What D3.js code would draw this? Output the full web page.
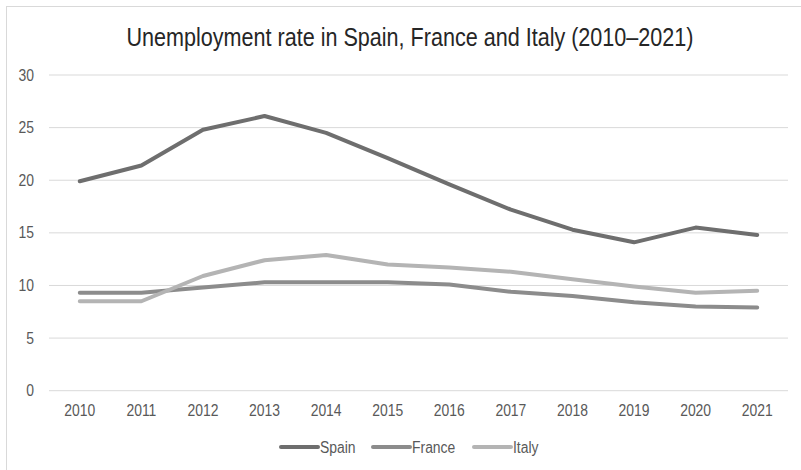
<!DOCTYPE html>
<html>
<head>
<meta charset="utf-8">
<script src="https://cdn.jsdelivr.net/npm/d3@7"></script>
<style>
  html, body { margin: 0; padding: 0; background: #fff; }
  svg { display: block; font-family: "Liberation Sans", Arial, sans-serif; }
</style>
</head>
<body>
<svg id="chart" width="801" height="470"></svg>
<script>
// Unemployment rate (%) by year
const years = ["2010","2011","2012","2013","2014","2015","2016","2017","2018","2019","2020","2021"];
const spain  = [19.9, 21.4, 24.8, 26.1, 24.5, 22.1, 19.6, 17.2, 15.3, 14.1, 15.5, 14.8];
const france = [9.3, 9.3, 9.8, 10.3, 10.3, 10.3, 10.1, 9.4, 9.0, 8.4, 8.0, 7.9];
const italy  = [8.5, 8.5, 10.9, 12.4, 12.9, 12.0, 11.7, 11.3, 10.6, 9.9, 9.3, 9.5];
const yTicks = [0, 5, 10, 15, 20, 25, 30];
const seriesNames = ["Spain", "France", "Italy"];
const seriesColors = ["#6e6e6e", "#8c8c8c", "#b4b4b4"];
const title = "Unemployment rate in Spain, France and Italy (2010\u20132021)";

const series = [spain, france, italy].map((vals, i) => ({
  name: seriesNames[i], color: seriesColors[i], values: vals
}));

// condensed look for all text (horizontal squeeze)
const squeeze = 0.87;
const titleSqueeze = 0.83;

const svg = d3.select("#chart");
const plot = { left: 49, right: 788, top: 75, bottom: 390.7 };

// outer chart frame
svg.append("rect")
  .attr("x", 6.5).attr("y", 6.5)
  .attr("width", 820).attr("height", 490)
  .attr("fill", "#fff").attr("stroke", "#d9d9d9").attr("stroke-width", 1);

const x = d3.scaleBand().domain(years).range([plot.left, plot.right]);
const y = d3.scaleLinear().domain([0, 30]).range([plot.bottom, plot.top]);

// gridlines
svg.append("g").selectAll("line").data(yTicks).join("line")
  .attr("x1", plot.left).attr("x2", plot.right)
  .attr("y1", d => y(d)).attr("y2", d => y(d))
  .attr("stroke", "#d9d9d9").attr("stroke-width", 1);

// y axis labels
const yAxis = svg.append("g")
  .attr("transform", `translate(${plot.left - 15},0)`)
  .call(d3.axisLeft(y).tickValues(yTicks).tickSize(0).tickPadding(0));
yAxis.select(".domain").remove();
yAxis.selectAll("text")
  .attr("fill", "#595959")
  .attr("transform", `scale(${squeeze},1)`)
  .style("font-size", "16px")
  .style("font-family", "inherit");

// x axis labels
const xAxis = svg.append("g")
  .attr("transform", `translate(0,${plot.bottom + 14})`)
  .call(d3.axisBottom(x).tickSize(0).tickPadding(0));
xAxis.select(".domain").remove();
xAxis.selectAll("text")
  .attr("fill", "#595959")
  .attr("transform", `scale(${squeeze},1)`)
  .style("font-size", "16px")
  .style("font-family", "inherit");

// lines
const line = d3.line()
  .x((d, i) => x(years[i]) + x.bandwidth() / 2)
  .y(d => y(d));

svg.append("g").selectAll("path").data(series).join("path")
  .attr("d", d => line(d.values))
  .attr("fill", "none")
  .attr("stroke", d => d.color)
  .attr("stroke-width", 4)
  .attr("stroke-linejoin", "round")
  .attr("stroke-linecap", "round");

// title
svg.append("text")
  .attr("transform", `translate(410,46) scale(${titleSqueeze},1)`)
  .attr("text-anchor", "middle")
  .attr("fill", "#262626")
  .style("font-size", "26px")
  .text(title);

// legend
const legendX = [280, 372, 473];
const legend = svg.append("g").selectAll("g").data(series).join("g")
  .attr("transform", (d, i) => `translate(${legendX[i]},447)`);
legend.append("line")
  .attr("x1", 1).attr("x2", 38).attr("y1", 0).attr("y2", 0)
  .attr("stroke", d => d.color).attr("stroke-width", 4).attr("stroke-linecap", "round");
legend.append("text")
  .attr("transform", `translate(40,6) scale(${squeeze},1)`)
  .attr("fill", "#595959")
  .style("font-size", "16px")
  .text(d => d.name);
</script>
</body>
</html>
